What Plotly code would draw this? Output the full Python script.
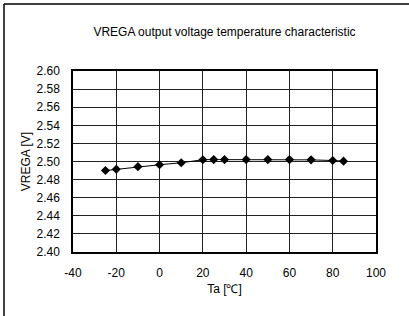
import plotly.graph_objects as go

ta = [-25, -20, -10, 0, 10, 20, 25, 30, 40, 50, 60, 70, 80, 85]
vrega = [2.490, 2.4914, 2.4943, 2.4964, 2.4986, 2.5020, 2.5021, 2.5021, 2.5021, 2.5021, 2.5021, 2.5018, 2.5011, 2.5004]

x_ticks = [-40, -20, 0, 20, 40, 60, 80, 100]
y_ticks = [2.40, 2.42, 2.44, 2.46, 2.48, 2.50, 2.52, 2.54, 2.56, 2.58, 2.60]

fig = go.Figure()
fig.add_trace(go.Scatter(
    x=ta, y=vrega, mode="lines+markers",
    line=dict(color="black", width=1),
    marker=dict(symbol="diamond", size=7, color="black"),
    showlegend=False,
))

font = dict(family="Liberation Sans, Arial, sans-serif", size=12, color="black")
W, H = 409, 316
L, R, T, B = 73, 33, 71, 64
pw, ph = W - L - R, H - T - B

fig.update_layout(
    width=W, height=H,
    margin=dict(l=L, r=R, t=T, b=B),
    paper_bgcolor="white", plot_bgcolor="white",
    font=font,
    title=dict(text="VREGA output voltage temperature characteristic",
               x=(L + pw / 2) / W, xanchor="center", y=1 - 32 / H, yanchor="middle",
               font=dict(size=12)),
    xaxis=dict(range=[-40, 100], tickvals=x_ticks, ticktext=[str(v) for v in x_ticks],
               showgrid=True, gridcolor="#222", gridwidth=1, zeroline=False,
               showline=True, linecolor="black", linewidth=1.5, mirror=True,
               ticks="", ticklabelstandoff=9,
               title=dict(text="Ta [\u2103]", standoff=5, font=dict(size=12))),
    yaxis=dict(range=[2.40, 2.60], tickvals=y_ticks, ticktext=[f"{v:.2f}" for v in y_ticks],
               showgrid=True, gridcolor="#222", gridwidth=1, zeroline=False,
               showline=True, linecolor="black", linewidth=1.5, mirror=True,
               ticks="", ticklabelstandoff=9,
               title=dict(text="VREGA [V]", standoff=3, font=dict(size=12))),
)

# outer frame (top and left edges visible in the reference)
x0 = (4 - L) / pw
y_top = (H - B - 4) / ph
fig.add_shape(type="line", xref="paper", yref="paper", x0=x0, x1=(W + 5 - L) / pw,
              y0=y_top, y1=y_top, line=dict(color="black", width=1.5))
fig.add_shape(type="line", xref="paper", yref="paper", x0=x0, x1=x0,
              y0=y_top, y1=-(B + 5) / ph, line=dict(color="black", width=1.5))

fig.write_html("out.html", config={"displayModeBar": False},
               post_script="document.body.style.margin='0';")
